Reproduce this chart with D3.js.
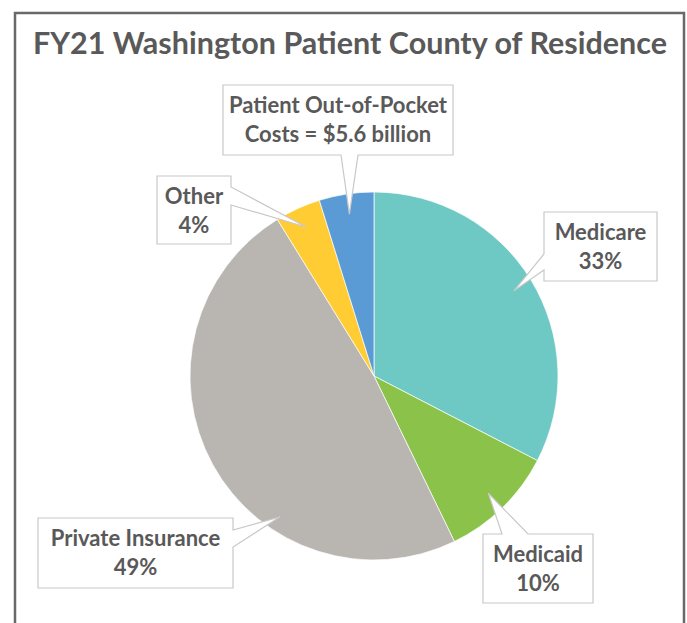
<!DOCTYPE html>
<html>
<head>
<meta charset="utf-8">
<script src="https://cdn.jsdelivr.net/npm/d3@7"></script>
<style>
  body { margin: 0; background: #fff; }
  svg text { font-family: Lato, "Open Sans", sans-serif; fill: #595959; font-weight: bold; }
</style>
</head>
<body>
<div class="chart"></div>
<script>
// Datos del grafico
var categorias = ["Medicare", "Medicaid", "Private Insurance", "Other", "Patient Out-of-Pocket"];
var valores = [32.6, 10.2, 48.4, 4.0, 4.8];
var etiquetas = [
    ["Medicare", "33%"],
    ["Medicaid", "10%"],
    ["Private Insurance", "49%"],
    ["Other", "4%"],
    ["Patient Out-of-Pocket", "Costs = $5.6 billion"]
];
var colores = ["#6ec9c5", "#8bc34a", "#b9b5b1", "#ffcc33", "#5b9bd5"];
var titulo = "FY21 Washington Patient County of Residence";

var width = 687, height = 623;
var cx = 374, cy = 376, radio = 184;

// Cajas de las etiquetas (x, y, ancho, alto, lado de la flecha)
var cajas = [
    { x: 544, y: 212, w: 113, h: 69, lado: "left", a: 254, b: 270 },
    { x: 483, y: 534, w: 110, h: 69, lado: "top", a: 502, b: 528 },
    { x: 38, y: 518, w: 195, h: 70, lado: "right", a: 530, b: 547, angulo: 213.7 },
    { x: 157, y: 176, w: 74, h: 68, lado: "right", a: 187, b: 205 },
    { x: 223, y: 85, w: 230, h: 70, lado: "bottom", a: 341, b: 358 }
];

var svg = d3.select(".chart").append("svg")
    .attr("width", width)
    .attr("height", height);

// Marco
svg.append("path")
    .attr("d", "M15," + height + "V13H684V" + height)
    .attr("fill", "none")
    .attr("stroke", "#6b6867")
    .attr("stroke-width", 2.5);

// Titulo
svg.append("text")
    .attr("x", 350)
    .attr("y", 54)
    .attr("text-anchor", "middle")
    .attr("textLength", 634)
    .attr("lengthAdjust", "spacingAndGlyphs")
    .style("font-size", "30px")
    .text(titulo);

var pie = d3.pie().sort(null).value(function(d) { return d; });
var arcos = pie(valores);
var arco = d3.arc().innerRadius(0).outerRadius(radio);

var g = svg.append("g").attr("transform", "translate(" + cx + "," + cy + ")");
g.selectAll("path.slice")
    .data(arcos)
    .enter().append("path")
    .attr("class", "slice")
    .attr("d", arco)
    .attr("fill", function(d, i) { return colores[i]; })
    .attr("stroke", "#fff")
    .attr("stroke-width", 0.7);

// Etiquetas con flecha
arcos.forEach(function(d, i) {
    var c = cajas[i];
    var ang = c.angulo !== undefined ? c.angulo * Math.PI / 180 : (d.startAngle + d.endAngle) / 2;
    var rr = c.angulo !== undefined ? radio * 0.92 : radio * 0.89;
    var tx = cx + rr * Math.sin(ang), ty = cy - rr * Math.cos(ang);

    var pts;
    if (c.lado === "left") {
        pts = [[c.x, c.y], [c.x + c.w, c.y], [c.x + c.w, c.y + c.h], [c.x, c.y + c.h], [c.x, c.b], [tx, ty], [c.x, c.a]];
    } else if (c.lado === "right") {
        pts = [[c.x, c.y], [c.x + c.w, c.y], [c.x + c.w, c.a], [tx, ty], [c.x + c.w, c.b], [c.x + c.w, c.y + c.h], [c.x, c.y + c.h]];
    } else if (c.lado === "top") {
        pts = [[c.x, c.y], [c.a, c.y], [tx, ty], [c.b, c.y], [c.x + c.w, c.y], [c.x + c.w, c.y + c.h], [c.x, c.y + c.h]];
    } else {
        pts = [[c.x, c.y], [c.x + c.w, c.y], [c.x + c.w, c.y + c.h], [c.b, c.y + c.h], [tx, ty], [c.a, c.y + c.h], [c.x, c.y + c.h]];
    }
    svg.append("path")
        .attr("d", "M" + pts.map(function(p) { return p.join(","); }).join("L") + "Z")
        .attr("fill", "#fff")
        .attr("stroke", "#c8c8c8")
        .attr("stroke-width", 1.2);

    var t = svg.append("text")
        .attr("text-anchor", "middle")
        .style("font-size", "22px");
    etiquetas[i].forEach(function(linea, k) {
        t.append("tspan")
            .attr("x", c.x + c.w / 2)
            .attr("y", c.y + 28 + k * 29)
            .text(linea);
    });
});
</script>
</body>
</html>
